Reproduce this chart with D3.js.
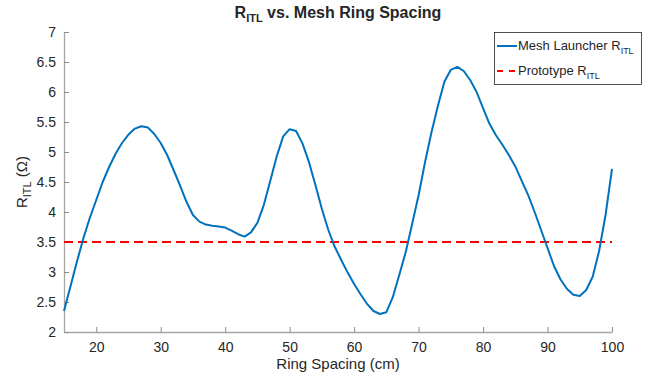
<!DOCTYPE html>
<html>
<head>
<meta charset="utf-8">
<script src="https://cdn.jsdelivr.net/npm/d3@7"></script>
<style>
body { margin: 0; background: #fff; }
text { font-family: "Liberation Sans", Arial, Helvetica, sans-serif; fill: #262626; }
</style>
</head>
<body>
<div id="chartDiv"></div>
<script>
var w = 649, h = 374

// ring spacing (cm)
var spacing = [15,16,17,18,19,20,21,22,23,24,25,26,27,28,29,30,31,32,33,34,35,36,37,38,39,40,
	41,42,43,44,45,46,47,48,49,50,51,52,53,54,55,56,57,58,59,60,61,62,63,64,65,66,67,68,69,70,
	71,72,73,74,75,76,77,78,79,80,81,82,83,84,85,86,87,88,89,90,91,92,93,94,95,96,97,98,99,100]

// mesh launcher R_ITL (ohm)
var rMesh = [2.35,2.76,3.17,3.56,3.9,4.2,4.5,4.75,4.97,5.15,5.29,5.39,5.43,5.41,5.3,5.15,4.95,4.7,4.44,4.17,3.95,
	3.84,3.79,3.77,3.76,3.74,3.69,3.63,3.59,3.66,3.82,4.12,4.52,4.93,5.26,5.38,5.35,5.14,4.83,4.45,4.05,
	3.7,3.42,3.2,2.99,2.8,2.63,2.47,2.35,2.3,2.33,2.58,2.95,3.33,3.8,4.28,4.83,5.33,5.77,6.17,6.37,6.42,
	6.35,6.2,6.0,5.73,5.47,5.28,5.12,4.95,4.76,4.52,4.28,4.0,3.7,3.4,3.1,2.88,2.72,2.62,2.6,2.7,2.92,3.35,3.95,4.72]

var rProto = 3.5

var xTicks = [20,30,40,50,60,70,80,90,100]
var yTicks = [2,2.5,3,3.5,4,4.5,5,5.5,6,6.5,7]

var svg = d3.select("#chartDiv")
	.append("svg")
	.attr("width", w)
	.attr("height", h)

var x = d3.scaleLinear().domain([15, 100]).range([64, 612])
var y = d3.scaleLinear().domain([2, 7]).range([332, 32])

// axes, ticks inside like matlab
var xAxis = svg.append("g")
	.attr("transform", "translate(0,332)")
	.call(d3.axisBottom(x).tickValues(xTicks).tickSizeInner(-5).tickSizeOuter(0).tickPadding(10))
var yAxis = svg.append("g")
	.attr("transform", "translate(64,0)")
	.call(d3.axisLeft(y).tickValues(yTicks).tickSizeInner(-5).tickSizeOuter(0).tickPadding(8).tickFormat(d3.format("")))

svg.selectAll(".domain").style("stroke", "#a6a6a6").style("stroke-width", "1.3px")
svg.selectAll(".tick line").style("stroke", "#8c8c8c")
svg.selectAll(".tick text").style("font-size", "14px").style("fill", "#262626")
	.style("font-family", "'Liberation Sans', Arial, sans-serif")

// prototype line
svg.append("line")
	.attr("x1", x(15)).attr("x2", x(100))
	.attr("y1", y(rProto)).attr("y2", y(rProto))
	.style("stroke", "#ff0000")
	.style("stroke-width", "2px")
	.style("stroke-dasharray", "9,5")

// mesh curve
var line = d3.line()
	.x(function(d, i) {return x(spacing[i])})
	.y(function(d) {return y(d)})

svg.append("path")
	.attr("d", line(rMesh))
	.style("fill", "none")
	.style("stroke", "#0072bd")
	.style("stroke-width", "2px")
	.style("stroke-linejoin", "round")

// title
var title = svg.append("text")
	.attr("x", 338).attr("y", 18)
	.attr("text-anchor", "middle")
	.style("font-size", "16px").style("font-weight", "bold")
title.append("tspan").text("R")
title.append("tspan").attr("dy", 4).style("font-size", "11px").text("ITL")
title.append("tspan").attr("dy", -4).text(" vs. Mesh Ring Spacing")

// x label
svg.append("text")
	.attr("x", 338).attr("y", 369)
	.attr("text-anchor", "middle")
	.style("font-size", "15px")
	.text("Ring Spacing (cm)")

// y label
var ylab = svg.append("text")
	.attr("transform", "translate(27,182) rotate(-90)")
	.attr("text-anchor", "middle")
	.style("font-size", "15px")
ylab.append("tspan").text("R")
ylab.append("tspan").attr("dy", 4).style("font-size", "11px").text("ITL")
ylab.append("tspan").attr("dy", -4).text(" (\u03a9)")

// legend
var leg = svg.append("g")
leg.append("rect")
	.attr("x", 494.5).attr("y", 32.5)
	.attr("width", 147).attr("height", 52)
	.style("fill", "#fff")
	.style("stroke", "#262626")
	.style("stroke-width", "0.8px")

leg.append("line")
	.attr("x1", 497).attr("x2", 517).attr("y1", 46).attr("y2", 46)
	.style("stroke", "#0072bd").style("stroke-width", "2px")
leg.append("line")
	.attr("x1", 497).attr("x2", 517).attr("y1", 71).attr("y2", 71)
	.style("stroke", "#ff0000").style("stroke-width", "2px").style("stroke-dasharray", "6,6")

var t1 = leg.append("text").attr("x", 518).attr("y", 50).style("font-size", "13px")
t1.append("tspan").text("Mesh Launcher R")
t1.append("tspan").attr("dy", 4).style("font-size", "9px").text("ITL")
var t2 = leg.append("text").attr("x", 518).attr("y", 75).style("font-size", "13px")
t2.append("tspan").text("Prototype R")
t2.append("tspan").attr("dy", 4).style("font-size", "9px").text("ITL")
</script>
</body>
</html>
